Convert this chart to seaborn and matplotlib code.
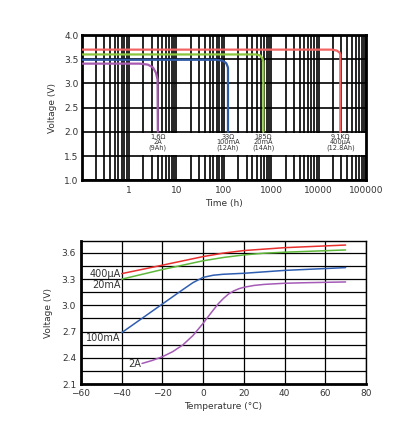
import numpy as np
import pandas as pd
import matplotlib.pyplot as plt
import seaborn as sns
from matplotlib.patches import Rectangle
from matplotlib.ticker import FixedLocator, NullFormatter, LogLocator

# --- top chart: discharge curves (time in hours, voltage) ---
purple_t = [0.1, 1.7, 2.5, 3.2, 3.7, 4.0, 4.05]
purple_v = [3.41, 3.41, 3.39, 3.33, 3.22, 3.08, 2.0]
blue_t = [0.1, 70, 95, 112, 120, 122, 122]
blue_v = [3.49, 3.49, 3.47, 3.42, 3.35, 3.32, 2.0]
green_t = [0.1, 480, 580, 650, 680, 680]
green_v = [3.6, 3.6, 3.58, 3.52, 3.45, 2.0]
red_t = [0.1, 19000, 24000, 27500, 28500, 28500]
red_v = [3.7, 3.7, 3.68, 3.64, 3.6, 2.0]
top_labels = ["1.6\u03a9\n2A\n(9Ah)", "33\u03a9\n100mA\n(12Ah)",
              "185\u03a9\n20mA\n(14Ah)", "9.1K\u03a9\n400\u00b5A\n(12.8Ah)"]
top_label_x = [4.05, 122, 680, 28500]

# --- bottom chart: voltage vs temperature ---
red_temp = [-40, -20, 0, 10, 20, 40, 70]
red_volt = [3.363, 3.46, 3.558, 3.598, 3.627, 3.66, 3.69]
green_temp = [-40, -20, 0, 10, 20, 30, 40, 70]
green_volt = [3.30, 3.41, 3.51, 3.548, 3.577, 3.597, 3.608, 3.634]
blue_temp = [-40, -20, -10, -5, 0, 5, 10, 20, 40, 70]
blue_volt = [2.688, 3.016, 3.18, 3.26, 3.32, 3.345, 3.356, 3.367, 3.40, 3.432]
purple_temp = [-30, -25, -20, -15, -10, -5, 0, 2.5, 5, 7.5, 10, 12.5, 15, 17.5, 20, 25, 30, 40, 50, 70]
purple_volt = [2.336, 2.37, 2.413, 2.47, 2.547, 2.655, 2.795, 2.872, 2.947, 3.02, 3.08, 3.13,
               3.165, 3.19, 3.207, 3.228, 3.24, 3.253, 3.259, 3.268]
bottom_labels = ["400\u00b5A", "20mA", "100mA", "2A"]

sns.set_style("white")
plt.rcParams['font.family'] = ['DejaVu Sans']

top_colors = {"2A": "#a65bb0", "100mA": "#2f5aa6", "20mA": "#8cc63e", "400uA": "#f26464"}
bot_colors = {"400uA": "#e8302e", "20mA": "#5fb83a", "100mA": "#2f5eb0", "2A": "#a45ab6"}

fig = plt.figure(figsize=(3.98, 4.23), dpi=100)

# ================= top chart =================
ax1 = fig.add_axes([0.205, 0.574, 0.715, 0.343])
top_df = pd.concat([
    pd.DataFrame({"t": purple_t, "v": purple_v, "s": "2A"}),
    pd.DataFrame({"t": blue_t, "v": blue_v, "s": "100mA"}),
    pd.DataFrame({"t": green_t, "v": green_v, "s": "20mA"}),
    pd.DataFrame({"t": red_t, "v": red_v, "s": "400uA"}),
], ignore_index=True)
sns.lineplot(data=top_df, x="t", y="v", hue="s", palette=top_colors, sort=False,
             estimator=None, lw=1.6, legend=False, ax=ax1, zorder=3)
ax1.set_xscale("log")
ax1.set_xlim(0.1, 100000)
ax1.set_ylim(1.0, 4.0)
ax1.set_axisbelow(True)
ax1.xaxis.set_major_locator(FixedLocator([1, 10, 100, 1000, 10000, 100000]))
ax1.set_xticklabels(["1", "10", "100", "1000", "10000", "100000"])
ax1.xaxis.set_minor_locator(LogLocator(base=10, subs=np.arange(2, 10)))
ax1.xaxis.set_minor_formatter(NullFormatter())
ax1.set_yticks(np.arange(1.0, 4.01, 0.5))
ax1.set_yticks(np.arange(1.0, 4.0, 0.05), minor=True)
ax1.grid(True, which="major", color="black", lw=1.2)
ax1.grid(True, which="minor", axis="x", color="black", lw=1.2)
ax1.tick_params(axis="x", which="both", length=0, labelsize=6.5, colors="#333333", pad=4)
ax1.tick_params(axis="y", which="major", length=0, labelsize=6.5, colors="#333333", pad=2)
ax1.tick_params(axis="y", which="minor", direction="in", length=2.5, width=0.8, color="black")
for sp in ax1.spines.values():
    sp.set_color("black")
    sp.set_linewidth(2)
ax1.add_patch(Rectangle((1.08, 1.52), 100000, 0.46, facecolor="white",
                        edgecolor="none", zorder=1.5))
for lab, lx in zip(top_labels, top_label_x):
    ax1.text(lx, 1.96, lab, ha="center", va="top", fontsize=4.8,
             linespacing=0.9, color="#333333", zorder=4)
ax1.set_xlabel("Time (h)", fontsize=6.5, color="#333333", labelpad=3)
ax1.set_ylabel("Voltage (V)", fontsize=6.5, color="#333333", labelpad=5)

# ================= bottom chart =================
ax2 = fig.add_axes([0.2035, 0.092, 0.716, 0.338])
bot_df = pd.concat([
    pd.DataFrame({"T": red_temp, "V": red_volt, "s": "400uA"}),
    pd.DataFrame({"T": green_temp, "V": green_volt, "s": "20mA"}),
    pd.DataFrame({"T": blue_temp, "V": blue_volt, "s": "100mA"}),
    pd.DataFrame({"T": purple_temp, "V": purple_volt, "s": "2A"}),
], ignore_index=True)
sns.lineplot(data=bot_df, x="T", y="V", hue="s", palette=bot_colors, estimator=None,
             lw=1.1, legend=False, ax=ax2, zorder=3)
ax2.set_xlim(-60, 80)
ax2.set_ylim(2.1, 3.735)
ax2.set_axisbelow(True)
ax2.set_xticks(np.arange(-60, 81, 20))
ax2.set_yticks([2.1, 2.4, 2.7, 3.0, 3.3, 3.6])
ax2.set_yticks(np.arange(2.25, 3.7, 0.3), minor=True)
ax2.grid(True, which="both", color="black", lw=0.9)
ax2.tick_params(axis="both", which="both", length=0, labelsize=6.5, colors="#333333")
for name, sp in ax2.spines.items():
    sp.set_color("black")
    sp.set_linewidth(2 if name in ("left", "bottom") else 1)
starts = [(red_temp[0], red_volt[0]), (green_temp[0], green_volt[0] - 0.07),
          (blue_temp[0], blue_volt[0] - 0.06), (purple_temp[0], purple_volt[0] - 0.01)]
for lab, (sx, sy) in zip(bottom_labels, starts):
    ax2.text(sx - 0.5, sy, lab, ha="right", va="center", fontsize=7, color="#333333")
ax2.set_xlabel("Temperature (\u00b0C)", fontsize=6.5, color="#333333", labelpad=3)
ax2.set_ylabel("Voltage (V)", fontsize=6.5, color="#333333", labelpad=6)

fig.savefig("out.png", dpi=100)
